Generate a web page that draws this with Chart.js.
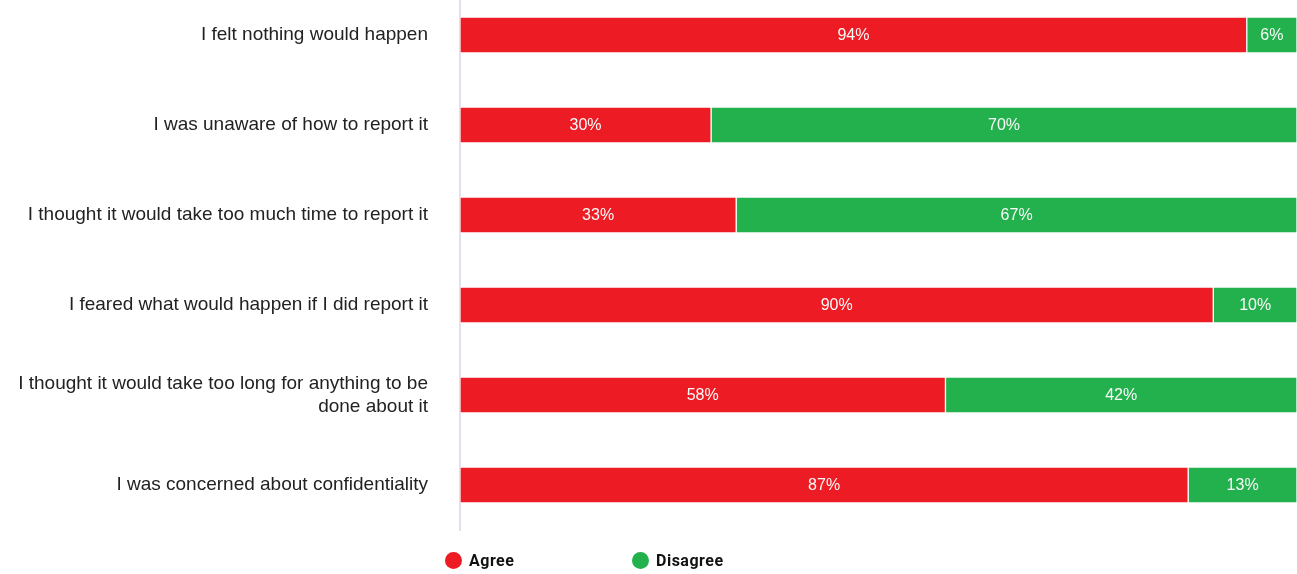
<!DOCTYPE html>
<html>
<head>
<meta charset="utf-8">
<title>Reasons for not reporting</title>
<script src="https://cdn.jsdelivr.net/npm/chart.js@4.4.1/dist/chart.umd.min.js"></script>
<style>
  body { margin: 0; background: #fff; }
  #wrap { position: relative; width: 1297px; height: 574px; overflow: hidden; }
  /* canvas sits 10px higher so the first bar lines up near the top edge */
  #chartBox { position: absolute; left: 0; top: -10px; width: 1297px; height: 584px; }
  #legend { position: absolute; left: 445px; top: 551px; display: flex; font-family: Roboto, "Liberation Sans", sans-serif; font-weight: bold; font-size: 16px; color: #111; letter-spacing: 0.5px; }
  #legend .item { display: flex; align-items: center; width: 187px; }
  #legend .dot { width: 17px; height: 17px; border-radius: 50%; margin-right: 7px; }
</style>
</head>
<body>
<div id="wrap">
  <div id="chartBox"><canvas id="myChart"></canvas></div>
  <div id="legend"></div>
</div>
<script>
// reasons (y axis), multi-line ones split into arrays
var reasons = [
  "I felt nothing would happen",
  "I was unaware of how to report it",
  "I thought it would take too much time to report it",
  "I feared what would happen if I did report it",
  ["I thought it would take too long for anything to be", "done about it"],
  "I was concerned about confidentiality"
];
var agreeValues = [94, 30, 33, 90, 58, 87];
var disagreeValues = [6, 70, 67, 10, 42, 13];

var agreeColor = "#ED1C24";
var disagreeColor = "#22B14C";

Chart.defaults.font.family = '"Liberation Sans", Arial, sans-serif';

// writes the percentage in the middle of every bar segment
const barValueLabels = {
  id: "barValueLabels",
  afterDatasetsDraw(chart) {
    const ctx = chart.ctx;
    ctx.save();
    ctx.font = '16px "Liberation Sans", Arial, sans-serif';
    ctx.fillStyle = "#fafafa";
    ctx.textAlign = "center";
    ctx.textBaseline = "middle";
    chart.data.datasets.forEach(function (ds, i) {
      chart.getDatasetMeta(i).data.forEach(function (bar, j) {
        var c = bar.getCenterPoint();
        ctx.fillText(ds.data[j] + "%", c.x, c.y + 1);
      });
    });
    ctx.restore();
  }
};

var chart = new Chart("myChart", {
  type: "bar",
  data: {
    labels: reasons,
    datasets: [
      {
        label: "Agree",
        data: agreeValues,
        backgroundColor: agreeColor,
        borderColor: "rgba(255,255,255,0.7)",
        borderWidth: 1,
        borderSkipped: false,
        barThickness: 36
      },
      {
        label: "Disagree",
        data: disagreeValues,
        backgroundColor: disagreeColor,
        borderColor: "rgba(255,255,255,0.7)",
        borderWidth: 1,
        borderSkipped: false,
        barThickness: 36
      }
    ]
  },
  options: {
    indexAxis: "y",
    responsive: true,
    maintainAspectRatio: false,
    animation: false,
    layout: { padding: { top: 0, bottom: 44, left: 0, right: 0 } },
    plugins: {
      legend: { display: false },
      tooltip: { enabled: false }
    },
    scales: {
      x: {
        stacked: true,
        min: 0,
        max: 100,
        display: false
      },
      y: {
        stacked: true,
        grid: { display: false, drawTicks: false },
        border: { display: true, color: "#dfe2ee", width: 2 },
        ticks: {
          color: "#222",
          padding: 32,
          font: { size: 19 }
        },
        afterFit: function (scale) {
          scale.width = 460;
          // no extra room above/below, the bars fill the whole height
          scale.paddingTop = 0;
          scale.paddingBottom = 0;
        }
      }
    }
  },
  plugins: [barValueLabels]
});

// legend underneath, built from the datasets
var legendBox = document.getElementById("legend");
chart.data.datasets.forEach(function (ds) {
  var item = document.createElement("div");
  item.className = "item";
  var dot = document.createElement("span");
  dot.className = "dot";
  dot.style.background = ds.backgroundColor;
  item.appendChild(dot);
  item.appendChild(document.createTextNode(ds.label));
  legendBox.appendChild(item);
});
</script>
</body>
</html>
